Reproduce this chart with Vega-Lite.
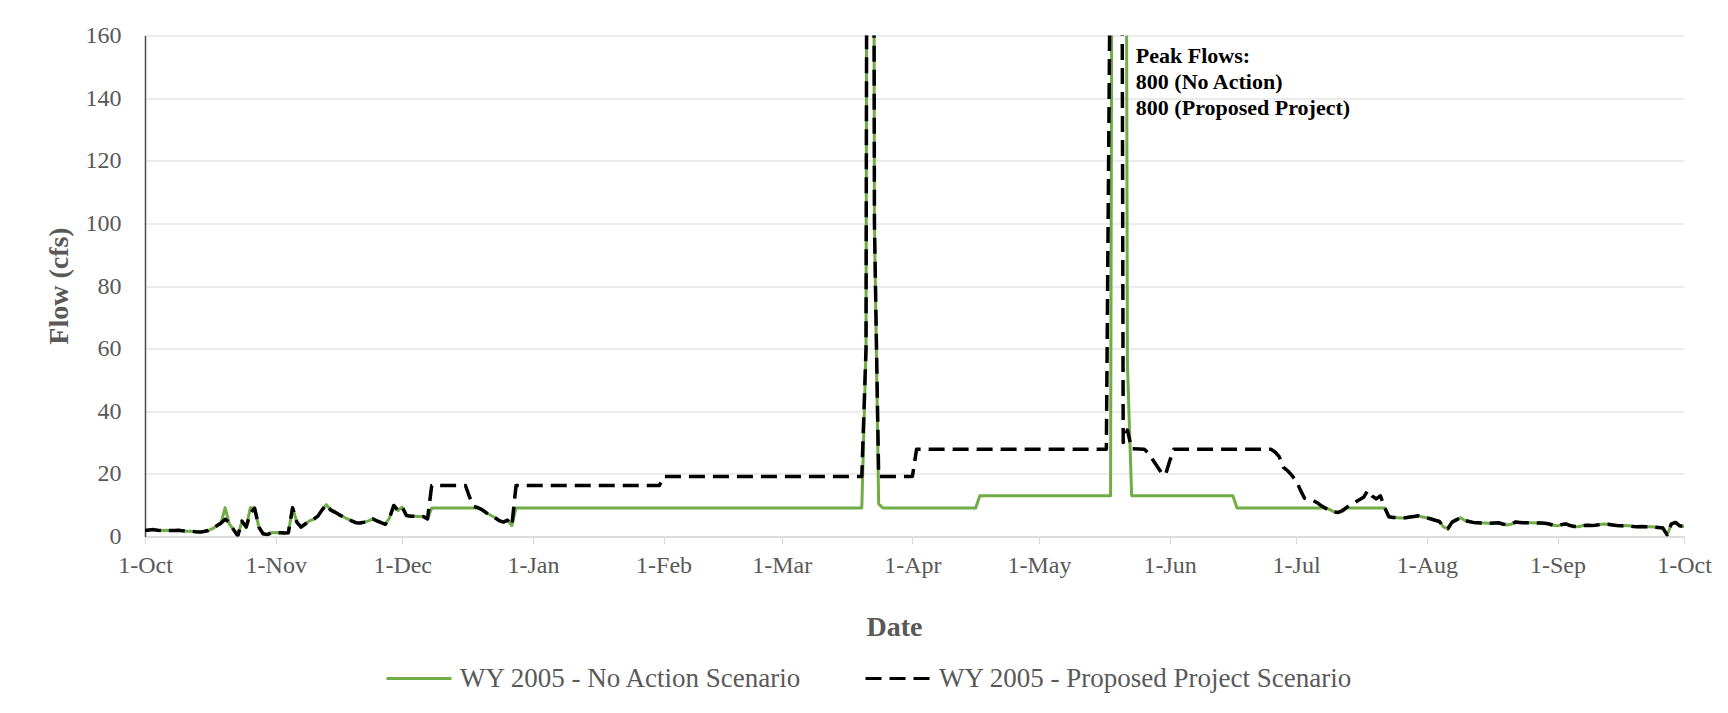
{
  "$schema": "https://vega.github.io/schema/vega-lite/v6.json",
  "autosize": {"type": "none"},
  "padding": {"left": 145, "top": 35.5, "right": 44, "bottom": 176.5},
  "width": 1539,
  "height": 501,
  "background": "white",
  "config": {
    "view": {"stroke": null},
    "font": "Liberation Serif",
    "axis": {"labelFont": "Liberation Serif", "titleFont": "Liberation Serif", "labelColor": "#595959", "titleColor": "#595959"},
    "legend": {"labelFont": "Liberation Serif", "titleFont": "Liberation Serif"},
    "text": {"font": "Liberation Serif"}
  },
  "datasets": {
    "noAction": [
      {"date": "2004-10-01", "flow": 1.9}, {"date": "2004-10-02", "flow": 2.1}, {"date": "2004-10-03", "flow": 2.2}, {"date": "2004-10-04", "flow": 2.0},
      {"date": "2004-10-05", "flow": 1.9}, {"date": "2004-10-06", "flow": 2.0}, {"date": "2004-10-07", "flow": 1.9}, {"date": "2004-10-08", "flow": 1.9},
      {"date": "2004-10-09", "flow": 2.0}, {"date": "2004-10-10", "flow": 1.8}, {"date": "2004-10-11", "flow": 1.7}, {"date": "2004-10-12", "flow": 1.7},
      {"date": "2004-10-13", "flow": 1.5}, {"date": "2004-10-14", "flow": 1.4}, {"date": "2004-10-15", "flow": 1.6}, {"date": "2004-10-16", "flow": 1.9},
      {"date": "2004-10-17", "flow": 2.5}, {"date": "2004-10-18", "flow": 3.4}, {"date": "2004-10-19", "flow": 4.2}, {"date": "2004-10-20", "flow": 9.2},
      {"date": "2004-10-21", "flow": 4.0}, {"date": "2004-10-22", "flow": 2.2}, {"date": "2004-10-23", "flow": 0.2}, {"date": "2004-10-24", "flow": 4.9},
      {"date": "2004-10-25", "flow": 3.0}, {"date": "2004-10-26", "flow": 9.2}, {"date": "2004-10-27", "flow": 9.2}, {"date": "2004-10-28", "flow": 3.0},
      {"date": "2004-10-29", "flow": 0.9}, {"date": "2004-10-30", "flow": 0.6}, {"date": "2004-10-31", "flow": 1.2}, {"date": "2004-11-01", "flow": 1.3},
      {"date": "2004-11-02", "flow": 1.2}, {"date": "2004-11-03", "flow": 1.1}, {"date": "2004-11-04", "flow": 1.2}, {"date": "2004-11-05", "flow": 9.2},
      {"date": "2004-11-06", "flow": 4.6}, {"date": "2004-11-07", "flow": 3.0}, {"date": "2004-11-08", "flow": 4.0}, {"date": "2004-11-09", "flow": 5.0},
      {"date": "2004-11-10", "flow": 5.5}, {"date": "2004-11-11", "flow": 6.5}, {"date": "2004-11-12", "flow": 8.5}, {"date": "2004-11-13", "flow": 10.2},
      {"date": "2004-11-14", "flow": 8.5}, {"date": "2004-11-15", "flow": 7.8}, {"date": "2004-11-16", "flow": 7.0}, {"date": "2004-11-17", "flow": 6.3},
      {"date": "2004-11-18", "flow": 5.6}, {"date": "2004-11-19", "flow": 5.0}, {"date": "2004-11-20", "flow": 4.4}, {"date": "2004-11-21", "flow": 4.3},
      {"date": "2004-11-22", "flow": 4.6}, {"date": "2004-11-23", "flow": 5.0}, {"date": "2004-11-24", "flow": 5.6}, {"date": "2004-11-25", "flow": 5.0},
      {"date": "2004-11-26", "flow": 4.4}, {"date": "2004-11-27", "flow": 3.9}, {"date": "2004-11-28", "flow": 6.0}, {"date": "2004-11-29", "flow": 9.9},
      {"date": "2004-11-30", "flow": 8.3}, {"date": "2004-12-01", "flow": 9.4}, {"date": "2004-12-02", "flow": 6.7}, {"date": "2004-12-03", "flow": 6.5},
      {"date": "2004-12-04", "flow": 6.5}, {"date": "2004-12-05", "flow": 6.4}, {"date": "2004-12-06", "flow": 6.4}, {"date": "2004-12-07", "flow": 5.6},
      {"date": "2004-12-08", "flow": 9.1}, {"date": "2004-12-19", "flow": 9.1}, {"date": "2004-12-20", "flow": 8.5}, {"date": "2004-12-21", "flow": 7.5},
      {"date": "2004-12-22", "flow": 6.8}, {"date": "2004-12-23", "flow": 6.0}, {"date": "2004-12-24", "flow": 5.1}, {"date": "2004-12-25", "flow": 4.6},
      {"date": "2004-12-26", "flow": 5.2}, {"date": "2004-12-27", "flow": 3.5}, {"date": "2004-12-28", "flow": 9.1}, {"date": "2005-03-20", "flow": 9.1},
      {"date": "2005-03-21", "flow": 60}, {"date": "2005-03-22", "flow": 800}, {"date": "2005-03-23", "flow": 100}, {"date": "2005-03-24", "flow": 10.4},
      {"date": "2005-03-25", "flow": 9.1}, {"date": "2005-04-16", "flow": 9.1}, {"date": "2005-04-17", "flow": 13.0}, {"date": "2005-05-18", "flow": 13.0},
      {"date": "2005-05-19", "flow": 600}, {"date": "2005-05-20", "flow": 800}, {"date": "2005-05-21", "flow": 600}, {"date": "2005-05-22", "flow": 55},
      {"date": "2005-05-23", "flow": 13.0}, {"date": "2005-06-16", "flow": 13.0}, {"date": "2005-06-17", "flow": 9.1}, {"date": "2005-07-08", "flow": 9.1},
      {"date": "2005-07-09", "flow": 8.6}, {"date": "2005-07-10", "flow": 7.8}, {"date": "2005-07-11", "flow": 7.7}, {"date": "2005-07-12", "flow": 8.0},
      {"date": "2005-07-13", "flow": 9.1}, {"date": "2005-07-22", "flow": 9.1}, {"date": "2005-07-23", "flow": 6.3}, {"date": "2005-07-24", "flow": 6.1},
      {"date": "2005-07-25", "flow": 6.0}, {"date": "2005-07-26", "flow": 5.9}, {"date": "2005-07-27", "flow": 6.0}, {"date": "2005-07-28", "flow": 6.2},
      {"date": "2005-07-29", "flow": 6.4}, {"date": "2005-07-30", "flow": 6.6}, {"date": "2005-07-31", "flow": 6.2}, {"date": "2005-08-01", "flow": 6.0},
      {"date": "2005-08-02", "flow": 5.6}, {"date": "2005-08-03", "flow": 5.2}, {"date": "2005-08-04", "flow": 4.8}, {"date": "2005-08-05", "flow": 3.0},
      {"date": "2005-08-06", "flow": 2.5}, {"date": "2005-08-07", "flow": 4.6}, {"date": "2005-08-08", "flow": 5.3}, {"date": "2005-08-09", "flow": 6.0},
      {"date": "2005-08-10", "flow": 5.1}, {"date": "2005-08-11", "flow": 4.8}, {"date": "2005-08-12", "flow": 4.5}, {"date": "2005-08-13", "flow": 4.4},
      {"date": "2005-08-14", "flow": 4.3}, {"date": "2005-08-15", "flow": 4.3}, {"date": "2005-08-16", "flow": 4.2}, {"date": "2005-08-17", "flow": 4.3},
      {"date": "2005-08-18", "flow": 4.4}, {"date": "2005-08-19", "flow": 4.0}, {"date": "2005-08-20", "flow": 3.7}, {"date": "2005-08-21", "flow": 3.9},
      {"date": "2005-08-22", "flow": 4.6}, {"date": "2005-08-23", "flow": 4.5}, {"date": "2005-08-24", "flow": 4.4}, {"date": "2005-08-25", "flow": 4.4},
      {"date": "2005-08-26", "flow": 4.4}, {"date": "2005-08-27", "flow": 4.3}, {"date": "2005-08-28", "flow": 4.3}, {"date": "2005-08-29", "flow": 4.2},
      {"date": "2005-08-30", "flow": 4.0}, {"date": "2005-08-31", "flow": 3.6}, {"date": "2005-09-01", "flow": 3.4}, {"date": "2005-09-02", "flow": 3.8},
      {"date": "2005-09-03", "flow": 4.0}, {"date": "2005-09-04", "flow": 3.5}, {"date": "2005-09-05", "flow": 3.2}, {"date": "2005-09-06", "flow": 3.1},
      {"date": "2005-09-07", "flow": 3.5}, {"date": "2005-09-08", "flow": 3.6}, {"date": "2005-09-09", "flow": 3.5}, {"date": "2005-09-10", "flow": 3.6},
      {"date": "2005-09-11", "flow": 3.8}, {"date": "2005-09-12", "flow": 4.0}, {"date": "2005-09-13", "flow": 3.9}, {"date": "2005-09-14", "flow": 3.7},
      {"date": "2005-09-15", "flow": 3.5}, {"date": "2005-09-16", "flow": 3.4}, {"date": "2005-09-17", "flow": 3.5}, {"date": "2005-09-18", "flow": 3.4},
      {"date": "2005-09-19", "flow": 3.2}, {"date": "2005-09-20", "flow": 3.1}, {"date": "2005-09-21", "flow": 3.2}, {"date": "2005-09-22", "flow": 3.1},
      {"date": "2005-09-23", "flow": 3.1}, {"date": "2005-09-24", "flow": 3.0}, {"date": "2005-09-25", "flow": 2.9}, {"date": "2005-09-26", "flow": 2.7},
      {"date": "2005-09-27", "flow": 0.5}, {"date": "2005-09-28", "flow": 4.0}, {"date": "2005-09-29", "flow": 4.5}, {"date": "2005-09-30", "flow": 3.4},
      {"date": "2005-10-01", "flow": 3.2}
    ],
    "proposed": [
      {"date": "2004-10-01", "flow": 1.9}, {"date": "2004-10-02", "flow": 2.1}, {"date": "2004-10-03", "flow": 2.2}, {"date": "2004-10-04", "flow": 2.0},
      {"date": "2004-10-05", "flow": 1.9}, {"date": "2004-10-06", "flow": 2.0}, {"date": "2004-10-07", "flow": 1.9}, {"date": "2004-10-08", "flow": 1.9},
      {"date": "2004-10-09", "flow": 2.0}, {"date": "2004-10-10", "flow": 1.8}, {"date": "2004-10-11", "flow": 1.7}, {"date": "2004-10-12", "flow": 1.7},
      {"date": "2004-10-13", "flow": 1.5}, {"date": "2004-10-14", "flow": 1.4}, {"date": "2004-10-15", "flow": 1.6}, {"date": "2004-10-16", "flow": 1.9},
      {"date": "2004-10-17", "flow": 2.5}, {"date": "2004-10-18", "flow": 3.4}, {"date": "2004-10-19", "flow": 4.2}, {"date": "2004-10-20", "flow": 5.5},
      {"date": "2004-10-21", "flow": 4.5}, {"date": "2004-10-22", "flow": 2.2}, {"date": "2004-10-23", "flow": 0.2}, {"date": "2004-10-24", "flow": 4.9},
      {"date": "2004-10-25", "flow": 3.0}, {"date": "2004-10-26", "flow": 7.5}, {"date": "2004-10-27", "flow": 9.0}, {"date": "2004-10-28", "flow": 3.0},
      {"date": "2004-10-29", "flow": 0.9}, {"date": "2004-10-30", "flow": 0.6}, {"date": "2004-10-31", "flow": 1.2}, {"date": "2004-11-01", "flow": 1.3},
      {"date": "2004-11-02", "flow": 1.2}, {"date": "2004-11-03", "flow": 1.1}, {"date": "2004-11-04", "flow": 1.2}, {"date": "2004-11-05", "flow": 9.2},
      {"date": "2004-11-06", "flow": 4.6}, {"date": "2004-11-07", "flow": 3.0}, {"date": "2004-11-08", "flow": 4.0}, {"date": "2004-11-09", "flow": 5.0},
      {"date": "2004-11-10", "flow": 5.5}, {"date": "2004-11-11", "flow": 6.5}, {"date": "2004-11-12", "flow": 8.5}, {"date": "2004-11-13", "flow": 10.2},
      {"date": "2004-11-14", "flow": 8.5}, {"date": "2004-11-15", "flow": 7.8}, {"date": "2004-11-16", "flow": 7.0}, {"date": "2004-11-17", "flow": 6.3},
      {"date": "2004-11-18", "flow": 5.6}, {"date": "2004-11-19", "flow": 5.0}, {"date": "2004-11-20", "flow": 4.4}, {"date": "2004-11-21", "flow": 4.3},
      {"date": "2004-11-22", "flow": 4.6}, {"date": "2004-11-23", "flow": 5.0}, {"date": "2004-11-24", "flow": 5.6}, {"date": "2004-11-25", "flow": 5.0},
      {"date": "2004-11-26", "flow": 4.4}, {"date": "2004-11-27", "flow": 3.9}, {"date": "2004-11-28", "flow": 6.0}, {"date": "2004-11-29", "flow": 9.9},
      {"date": "2004-11-30", "flow": 8.3}, {"date": "2004-12-01", "flow": 9.4}, {"date": "2004-12-02", "flow": 6.7}, {"date": "2004-12-03", "flow": 6.5},
      {"date": "2004-12-04", "flow": 6.5}, {"date": "2004-12-05", "flow": 6.4}, {"date": "2004-12-06", "flow": 6.4}, {"date": "2004-12-07", "flow": 5.6},
      {"date": "2004-12-08", "flow": 16.3}, {"date": "2004-12-16", "flow": 16.3}, {"date": "2004-12-17", "flow": 12.5}, {"date": "2004-12-18", "flow": 9.6},
      {"date": "2004-12-19", "flow": 9.2}, {"date": "2004-12-20", "flow": 8.5}, {"date": "2004-12-21", "flow": 7.5}, {"date": "2004-12-22", "flow": 6.8},
      {"date": "2004-12-23", "flow": 6.0}, {"date": "2004-12-24", "flow": 5.1}, {"date": "2004-12-25", "flow": 4.6}, {"date": "2004-12-26", "flow": 5.2},
      {"date": "2004-12-27", "flow": 3.5}, {"date": "2004-12-28", "flow": 16.3}, {"date": "2005-01-31", "flow": 16.3}, {"date": "2005-02-01", "flow": 19.2},
      {"date": "2005-03-20", "flow": 19.2}, {"date": "2005-03-21", "flow": 60}, {"date": "2005-03-22", "flow": 800}, {"date": "2005-03-23", "flow": 100},
      {"date": "2005-03-24", "flow": 19.2}, {"date": "2005-04-01", "flow": 19.2}, {"date": "2005-04-02", "flow": 27.9}, {"date": "2005-05-17", "flow": 27.9},
      {"date": "2005-05-18", "flow": 200}, {"date": "2005-05-19", "flow": 800}, {"date": "2005-05-20", "flow": 600}, {"date": "2005-05-21", "flow": 30},
      {"date": "2005-05-22", "flow": 34}, {"date": "2005-05-23", "flow": 28}, {"date": "2005-05-26", "flow": 27.9}, {"date": "2005-05-27", "flow": 26.5},
      {"date": "2005-05-28", "flow": 24.5}, {"date": "2005-05-29", "flow": 22.5}, {"date": "2005-05-30", "flow": 20.5}, {"date": "2005-05-31", "flow": 19.6},
      {"date": "2005-06-01", "flow": 24}, {"date": "2005-06-02", "flow": 27.9}, {"date": "2005-06-25", "flow": 27.9}, {"date": "2005-06-26", "flow": 27.0},
      {"date": "2005-06-27", "flow": 25.5}, {"date": "2005-06-28", "flow": 22.1}, {"date": "2005-06-29", "flow": 21.0}, {"date": "2005-06-30", "flow": 19.5},
      {"date": "2005-07-01", "flow": 17.9}, {"date": "2005-07-02", "flow": 14.9}, {"date": "2005-07-03", "flow": 12.2}, {"date": "2005-07-04", "flow": 11.8},
      {"date": "2005-07-05", "flow": 11.5}, {"date": "2005-07-06", "flow": 10.8}, {"date": "2005-07-07", "flow": 9.8}, {"date": "2005-07-08", "flow": 9.0},
      {"date": "2005-07-09", "flow": 8.2}, {"date": "2005-07-10", "flow": 7.8}, {"date": "2005-07-11", "flow": 7.7}, {"date": "2005-07-12", "flow": 8.3},
      {"date": "2005-07-13", "flow": 9.3}, {"date": "2005-07-14", "flow": 10.2}, {"date": "2005-07-15", "flow": 10.9}, {"date": "2005-07-16", "flow": 11.7},
      {"date": "2005-07-17", "flow": 12.5}, {"date": "2005-07-18", "flow": 14.7}, {"date": "2005-07-19", "flow": 13.0}, {"date": "2005-07-20", "flow": 12.0},
      {"date": "2005-07-21", "flow": 13.0}, {"date": "2005-07-22", "flow": 9.3}, {"date": "2005-07-23", "flow": 6.3}, {"date": "2005-07-24", "flow": 6.1},
      {"date": "2005-07-25", "flow": 6.0}, {"date": "2005-07-26", "flow": 5.9}, {"date": "2005-07-27", "flow": 6.0}, {"date": "2005-07-28", "flow": 6.2},
      {"date": "2005-07-29", "flow": 6.4}, {"date": "2005-07-30", "flow": 6.6}, {"date": "2005-07-31", "flow": 6.2}, {"date": "2005-08-01", "flow": 6.0},
      {"date": "2005-08-02", "flow": 5.6}, {"date": "2005-08-03", "flow": 5.2}, {"date": "2005-08-04", "flow": 4.8}, {"date": "2005-08-05", "flow": 3.0},
      {"date": "2005-08-06", "flow": 2.5}, {"date": "2005-08-07", "flow": 4.6}, {"date": "2005-08-08", "flow": 5.3}, {"date": "2005-08-09", "flow": 6.0},
      {"date": "2005-08-10", "flow": 5.1}, {"date": "2005-08-11", "flow": 4.8}, {"date": "2005-08-12", "flow": 4.5}, {"date": "2005-08-13", "flow": 4.4},
      {"date": "2005-08-14", "flow": 4.3}, {"date": "2005-08-15", "flow": 4.3}, {"date": "2005-08-16", "flow": 4.2}, {"date": "2005-08-17", "flow": 4.3},
      {"date": "2005-08-18", "flow": 4.4}, {"date": "2005-08-19", "flow": 4.0}, {"date": "2005-08-20", "flow": 3.7}, {"date": "2005-08-21", "flow": 3.9},
      {"date": "2005-08-22", "flow": 4.6}, {"date": "2005-08-23", "flow": 4.5}, {"date": "2005-08-24", "flow": 4.4}, {"date": "2005-08-25", "flow": 4.4},
      {"date": "2005-08-26", "flow": 4.4}, {"date": "2005-08-27", "flow": 4.3}, {"date": "2005-08-28", "flow": 4.3}, {"date": "2005-08-29", "flow": 4.2},
      {"date": "2005-08-30", "flow": 4.0}, {"date": "2005-08-31", "flow": 3.6}, {"date": "2005-09-01", "flow": 3.4}, {"date": "2005-09-02", "flow": 3.8},
      {"date": "2005-09-03", "flow": 4.0}, {"date": "2005-09-04", "flow": 3.5}, {"date": "2005-09-05", "flow": 3.2}, {"date": "2005-09-06", "flow": 3.1},
      {"date": "2005-09-07", "flow": 3.5}, {"date": "2005-09-08", "flow": 3.6}, {"date": "2005-09-09", "flow": 3.5}, {"date": "2005-09-10", "flow": 3.6},
      {"date": "2005-09-11", "flow": 3.8}, {"date": "2005-09-12", "flow": 4.0}, {"date": "2005-09-13", "flow": 3.9}, {"date": "2005-09-14", "flow": 3.7},
      {"date": "2005-09-15", "flow": 3.5}, {"date": "2005-09-16", "flow": 3.4}, {"date": "2005-09-17", "flow": 3.5}, {"date": "2005-09-18", "flow": 3.4},
      {"date": "2005-09-19", "flow": 3.2}, {"date": "2005-09-20", "flow": 3.1}, {"date": "2005-09-21", "flow": 3.2}, {"date": "2005-09-22", "flow": 3.1},
      {"date": "2005-09-23", "flow": 3.1}, {"date": "2005-09-24", "flow": 3.0}, {"date": "2005-09-25", "flow": 2.9}, {"date": "2005-09-26", "flow": 2.7},
      {"date": "2005-09-27", "flow": 0.5}, {"date": "2005-09-28", "flow": 4.0}, {"date": "2005-09-29", "flow": 4.5}, {"date": "2005-09-30", "flow": 3.4},
      {"date": "2005-10-01", "flow": 3.2}
    ],
    "note": [
      {"date": "2005-05-24", "flow": 156.7, "label": "Peak Flows:\n800 (No Action)\n800 (Proposed Project)"}
    ]
  },
  "encoding": {
    "x": {
      "field": "date", "type": "temporal",
      "scale": {"type": "utc", "nice": false, "domain": [{"year": 2004, "month": 10, "date": 1, "utc": true}, {"year": 2005, "month": 10, "date": 1, "utc": true}]},
      "axis": {
        "title": "Date", "titleFontSize": 28, "titleFontWeight": "bold", "titleX": 749, "titleY": 98.5, "titleBaseline": "alphabetic", "titleAlign": "center", "titleAnchor": null,
        "labelExpr": "utcFormat(datum.value, '%-d-%b')",
        "values": [
          {"year": 2004, "month": 10, "date": 1, "utc": true}, {"year": 2004, "month": 11, "date": 1, "utc": true}, {"year": 2004, "month": 12, "date": 1, "utc": true},
          {"year": 2005, "month": 1, "date": 1, "utc": true}, {"year": 2005, "month": 2, "date": 1, "utc": true}, {"year": 2005, "month": 3, "date": 1, "utc": true},
          {"year": 2005, "month": 4, "date": 1, "utc": true}, {"year": 2005, "month": 5, "date": 1, "utc": true}, {"year": 2005, "month": 6, "date": 1, "utc": true},
          {"year": 2005, "month": 7, "date": 1, "utc": true}, {"year": 2005, "month": 8, "date": 1, "utc": true}, {"year": 2005, "month": 9, "date": 1, "utc": true},
          {"year": 2005, "month": 10, "date": 1, "utc": true}
        ],
        "labelFontSize": 24, "labelPadding": 10, "labelAngle": 0, "labelOverlap": false, "labelFlush": false, "labelBound": false,
        "grid": false, "ticks": true, "tickSize": 7, "tickColor": "#d9d9d9", "tickWidth": 1,
        "domain": true, "domainColor": "#d9d9d9", "domainWidth": 1.5
      }
    },
    "y": {
      "field": "flow", "type": "quantitative",
      "scale": {"domain": [0, 160], "nice": false},
      "axis": {
        "title": "Flow (cfs)", "titleFontSize": 28, "titleFontWeight": "bold", "titleAngle": -90, "titleX": -78, "titleY": 250, "titleBaseline": "alphabetic", "titleAlign": "center", "titleAnchor": null,
        "values": [0, 20, 40, 60, 80, 100, 120, 140, 160],
        "labelFontSize": 24, "labelPadding": 24, "ticks": false, "tickSize": 0,
        "grid": true, "gridColor": "#d9d9d9", "gridWidth": 1.2,
        "domain": true, "domainColor": "#4d4d4d", "domainWidth": 1.5
      }
    }
  },
  "layer": [
    {
      "data": {"name": "noAction"},
      "mark": {"type": "line", "clip": true, "strokeWidth": 3, "strokeJoin": "round"},
      "encoding": {
        "color": {
          "datum": "WY 2005 - No Action Scenario",
          "scale": {"domain": ["WY 2005 - No Action Scenario", "WY 2005 - Proposed Project Scenario"], "range": ["#70AD47", "#000000"]},
          "legend": {
            "title": null, "orient": "none", "direction": "horizontal", "legendX": 240, "legendY": 609,
            "symbolType": "stroke", "symbolSize": 4225, "symbolStrokeWidth": 3,
            "labelFont": "Liberation Serif", "labelFontSize": 27, "labelColor": "#595959", "labelOffset": 7, "labelLimit": 0, "columnPadding": 56, "padding": 0,
            "encode": {
              "symbols": {"update": {"strokeDash": {"signal": "datum.value === 'WY 2005 - Proposed Project Scenario' ? [16, 8] : [1, 0]"}}},
              "labels": {"update": {"font": {"value": "Liberation Serif"}, "fontSize": {"value": 27}, "fill": {"value": "#595959"}}}
            }
          }
        }
      }
    },
    {
      "data": {"name": "proposed"},
      "mark": {"type": "line", "clip": true, "strokeWidth": 3.5, "strokeDash": [16, 8], "strokeJoin": "round"},
      "encoding": {
        "color": {"datum": "WY 2005 - Proposed Project Scenario"}
      }
    },
    {
      "data": {"name": "note"},
      "mark": {"type": "text", "align": "left", "baseline": "top", "font": "Liberation Serif", "fontWeight": "bold", "fontSize": 22, "lineHeight": 26, "lineBreak": "\n", "color": "#000000"},
      "encoding": {
        "text": {"field": "label"}
      }
    }
  ]
}
